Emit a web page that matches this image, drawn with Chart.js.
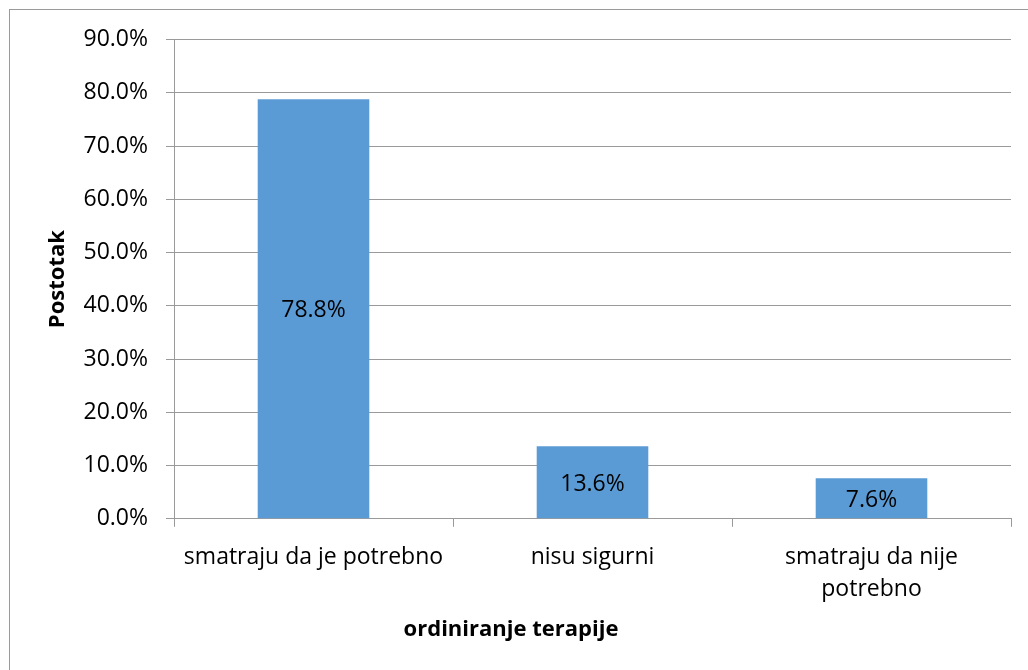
<!DOCTYPE html>
<html>
<head>
<meta charset="utf-8">
<script src="https://cdn.jsdelivr.net/npm/chart.js"></script>
<style>
  html, body { margin: 0; padding: 0; background: #fff; }
  #frame { position: absolute; left: 9px; top: 9px; width: 1100px; height: 700px; border: 1px solid #9a9a9a; }
  #wrap { position: absolute; left: 0; top: 0; width: 1028px; height: 670px; }
</style>
</head>
<body>
<div id="frame"></div>
<div id="wrap"><canvas id="chart"></canvas></div>
<script>
// data
const categories = [
  'smatraju da je potrebno',
  'nisu sigurni',
  ['smatraju da nije', 'potrebno']
];
const percentages = [78.8, 13.6, 7.6];
const yMax = 90;
const yStep = 10;

const FONT = "'Open Sans', 'Noto Sans', sans-serif";
const GRID = '#9a9a9a';

// value labels in the middle of each bar
const barLabels = {
  id: 'barLabels',
  afterDatasetsDraw(chart) {
    const ctx = chart.ctx;
    const meta = chart.getDatasetMeta(0);
    ctx.save();
    ctx.font = '23px ' + FONT;
    ctx.fillStyle = '#000';
    ctx.textAlign = 'center';
    ctx.textBaseline = 'middle';
    meta.data.forEach((bar, i) => {
      const y = (bar.y + bar.base) / 2 + 2;
      ctx.fillText(percentages[i].toFixed(1) + '%', bar.x, y);
    });
    ctx.restore();
  }
};

new Chart(document.getElementById('chart'), {
  type: 'bar',
  data: {
    labels: categories,
    datasets: [{
      data: percentages,
      backgroundColor: '#5b9bd5',
      borderWidth: 0,
      barPercentage: 0.4,
      categoryPercentage: 1.0
    }]
  },
  options: {
    responsive: true,
    maintainAspectRatio: false,
    animation: false,
    layout: { padding: { top: 39.5, left: 11, right: 17, bottom: 0 } },
    plugins: {
      legend: { display: false },
      tooltip: { enabled: false },
      // x axis title sits centred under the whole chart, not the plot
      title: {
        display: true,
        position: 'bottom',
        text: 'ordiniranje terapije',
        color: '#000',
        padding: { top: 0, bottom: 27 },
        font: { family: FONT, size: 22, weight: 'bold', lineHeight: 1.2 }
      }
    },
    scales: {
      x: {
        afterFit(s) { s.height = 97.8; },
        grid: {
          offset: true,
          drawOnChartArea: false,
          drawTicks: true,
          tickLength: 8,
          color: GRID
        },
        border: { color: GRID, width: 1 },
        ticks: {
          color: '#000',
          padding: 15,
          maxRotation: 0,
          font: { family: FONT, size: 23, lineHeight: 1.39 }
        }
      },
      y: {
        min: 0,
        max: yMax,
        afterFit(s) { s.width = 163; },
        grid: { color: GRID, tickLength: 8 },
        border: { color: GRID, width: 1 },
        ticks: {
          stepSize: yStep,
          color: '#000',
          padding: 18,
          font: { family: FONT, size: 23 },
          callback: v => v.toFixed(1) + '%'
        },
        title: {
          display: true,
          text: 'Postotak',
          color: '#000',
          padding: { top: 34, bottom: 0 },
          font: { family: FONT, size: 22, weight: 'bold' }
        }
      }
    }
  },
  plugins: [barLabels]
});
</script>
</body>
</html>
